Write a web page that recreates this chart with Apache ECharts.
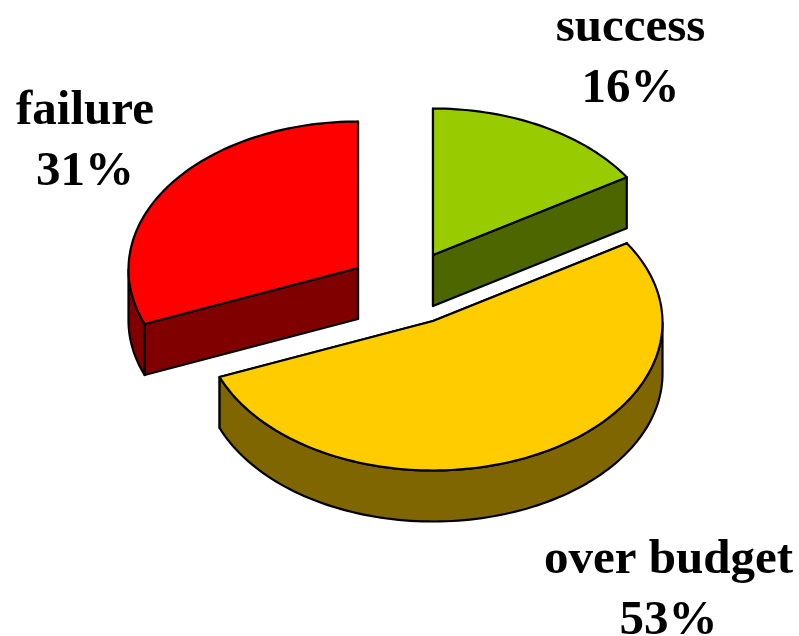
<!DOCTYPE html>
<html>
<head>
<meta charset="utf-8">
<style>html,body{margin:0;padding:0;background:#fff}#c{width:799px;height:636px}</style>
<script src="https://cdn.jsdelivr.net/npm/echarts@6/dist/echarts.min.js"></script>
</head>
<body>
<div id="c"></div>
<script>
// Data
var categories = ['success', 'over budget', 'failure'];
var shares = [16, 53, 31];

// Appearance (per category)
var topColors = ['#99CC00', '#FFCC00', '#FF0000'];
var sideColors = ['#4D6600', '#806600', '#800000'];
var apexes = [[433, 255], [433, 321], [358, 268]];
var labelAnchors = [[630.5, 59], [668.5, 591], [85, 142]];
var drawOrder = [2, 0, 1];
var RX = 229.5, RY = 148, DEPTH = 51, RIM_DY = 1.5;

var total = shares.reduce(function (a, b) { return a + b; }, 0);
var starts = [];
shares.reduce(function (acc, v, i) { starts[i] = acc; return acc + v / total * 360; }, 0);

function rim(apex, deg) {
  var r = deg * Math.PI / 180;
  return [apex[0] + RX * Math.sin(r), apex[1] + RIM_DY - RY * Math.cos(r)];
}
function down(p) { return [p[0], p[1] + DEPTH]; }
function arcPts(apex, a, b) {
  var pts = [], n = Math.max(2, Math.ceil((b - a) / 1.5));
  for (var i = 0; i <= n; i++) pts.push(rim(apex, a + (b - a) * i / n));
  return pts;
}
function poly(points, fill) {
  return {
    type: 'polygon',
    shape: { points: points },
    style: { fill: fill, stroke: '#000', lineWidth: 2.2, lineJoin: 'round' }
  };
}

var rows = drawOrder.map(function (i) { return [i, shares[i]]; });

var option = {
  animation: false,
  backgroundColor: '#fff',
  series: [{
    type: 'custom',
    silent: true,
    clip: false,
    coordinateSystem: 'none',
    data: rows,
    renderItem: function (params, api) {
      var i = api.value(0), v = api.value(1);
      var a = starts[i], b = a + v / total * 360;
      var apex = apexes[i], kids = [];
      var side = sideColors[i];
      var pa = rim(apex, a), pb = rim(apex, b);
      // cut faces
      kids.push(poly([apex, pa, down(pa), down(apex)], side));
      kids.push(poly([apex, pb, down(pb), down(apex)], side));
      // outer wall, only the part that faces the viewer
      var fa = Math.max(a, 90), fb = Math.min(b, 270);
      if (fb > fa) {
        var arc = arcPts(apex, fa, fb);
        kids.push(poly(arc.concat(arc.slice().reverse().map(down)), side));
      }
      // top face
      kids.push(poly([apex].concat(arcPts(apex, a, b)), topColors[i]));
      kids.push({
        type: 'text',
        style: {
          x: labelAnchors[i][0], y: labelAnchors[i][1],
          text: categories[i] + '\n' + v + '%',
          fill: '#000',
          font: 'bold 49px "Liberation Serif", serif',
          lineHeight: 61,
          align: 'center', verticalAlign: 'middle'
        }
      });
      return { type: 'group', children: kids };
    }
  }]
};
var chart = echarts.init(document.getElementById('c'), null, { renderer: 'canvas' });
chart.setOption(option);
</script>
</body>
</html>
